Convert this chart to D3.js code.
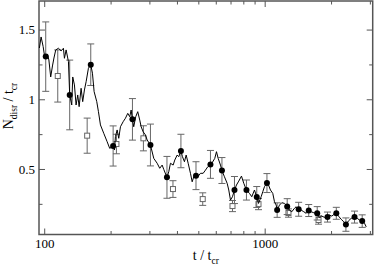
<!DOCTYPE html>
<html>
<head>
<meta charset="utf-8">
<script src="https://cdn.jsdelivr.net/npm/d3@7"></script>
<style>
  body { margin: 0; background: #fff; }
  svg { display: block; font-family: "Liberation Serif", "DejaVu Serif", serif; }
  svg text { font-family: "Liberation Serif", "DejaVu Serif", serif; }
</style>
</head>
<body>
<div id="chart"></div>
<script>
// simulation curve (t / t_cr, N_disr / t_cr)
var lineT = [95.1, 96.8, 98.9, 100.2, 101.6, 103.4, 105.0, 107.0, 109.0, 110.7, 112.8, 116.0, 119.3, 122.2, 123.5, 125.7, 128.8, 130.5, 133.3, 134.7,
  137.1, 139.5, 141.9, 144.0, 147.0, 149.5, 152.2, 154.9, 158.7, 162.6, 165.5, 168.4, 173.1, 176.2, 179.9, 186.2, 192.9, 198.2, 205.4, 208.3,
  210.4, 214.2, 217.8, 221.7, 228.0, 233.6, 239.3, 244.3, 247.9, 251.3, 254.7, 260.1, 265.6, 271.2, 275.2, 281.0, 287.9, 293.0, 303.3, 314.0,
  325.3, 334.2, 342.7, 348.5, 360.4, 367.2, 373.8, 384.5, 391.0, 400.9, 407.7, 417, 423.7, 432.6, 440.4, 449.7, 460.6, 469.0, 476.8, 488,
  497.2, 511.4, 526.0, 538.8, 551.9, 567.6, 577.9, 593.8, 604.4, 615.2, 630.2, 640, 657.0, 675.8, 687.3, 699.6, 714.4, 729.5, 744.9, 763.0,
  784.8, 804.0, 826.6, 853.1, 874.0, 898.9, 920.6, 937.5, 964.0, 980.4, 997.9, 1024, 1040.4, 1062.4, 1088.2, 1107.8, 1127.6, 1139, 1167.3, 1195.6,
  1229.7, 1265, 1295.6, 1327.1, 1365.1, 1389.6, 1426, 1464.1, 1504.4, 1542.6, 1584, 1625.5, 1670.3, 1731, 1773, 1816.3, 1868, 1927, 1967.9, 2016,
  2073.7, 2113, 2161.8, 2223.9, 2285.1, 2336, 2399.9, 2468.8, 2556, 2628.4, 2692, 2769, 2837.3, 2888];
var lineN = [1.368, 1.447, 1.378, 1.318, 1.306, 1.325, 1.282, 1.160, 1.239, 1.296, 1.354, 1.366, 1.347, 1.366, 1.294, 1.354, 1.270, 1.031, 0.959, 1.160,
  1.103, 0.959, 1.031, 0.947, 1.079, 0.983, 1.067, 1.126, 1.223, 1.248, 1.187, 1.055, 0.983, 0.911, 0.816, 0.756, 0.696, 0.648, 0.665, 0.636,
  0.732, 0.780, 0.720, 0.803, 0.839, 0.864, 0.899, 0.875, 0.923, 0.856, 0.803, 0.875, 0.911, 0.851, 0.803, 0.767, 0.744, 0.708, 0.672, 0.576,
  0.541, 0.505, 0.528, 0.497, 0.440, 0.480, 0.541, 0.528, 0.564, 0.600, 0.588, 0.629, 0.588, 0.552, 0.600, 0.541, 0.469, 0.408, 0.444, 0.452,
  0.444, 0.469, 0.469, 0.492, 0.516, 0.533, 0.545, 0.576, 0.624, 0.576, 0.528, 0.489, 0.444, 0.397, 0.349, 0.277, 0.301, 0.349, 0.385, 0.413,
  0.449, 0.397, 0.349, 0.325, 0.301, 0.349, 0.299, 0.253, 0.301, 0.337, 0.373, 0.399, 0.385, 0.349, 0.325, 0.265, 0.241, 0.205, 0.241, 0.258,
  0.253, 0.234, 0.205, 0.193, 0.218, 0.229, 0.211, 0.205, 0.193, 0.182, 0.202, 0.193, 0.186, 0.182, 0.153, 0.162, 0.153, 0.155, 0.169, 0.162,
  0.177, 0.182, 0.162, 0.139, 0.121, 0.101, 0.128, 0.146, 0.155, 0.146, 0.134, 0.128, 0.110, 0.085];

// filled circles with error bars
var circT = [101.6, 130.5, 162.6, 205.4, 251.3, 303.3, 360.4, 417, 488, 567.6, 640, 729.5, 826.6, 920.6, 1024, 1139, 1265, 1426, 1584, 1731,
  1927, 2113, 2336, 2556, 2769];
var circN = [1.306, 1.031, 1.248, 0.665, 0.856, 0.672, 0.440, 0.629, 0.452, 0.533, 0.489, 0.349, 0.349, 0.299, 0.399, 0.205, 0.230, 0.211, 0.202, 0.182,
  0.155, 0.182, 0.101, 0.155, 0.126];
var circErr = [0.249, 0.25, 0.149, 0.144, 0.149, 0.15, 0.15, 0.12, 0.10, 0.10, 0.093, 0.097, 0.072, 0.075, 0.068, 0.052, 0.057, 0.05, 0.043, 0.048,
  0.036, 0.043, 0.048, 0.043, 0.045];

// open squares with error bars
var sqT = [115.2, 156.6, 212.6, 281.8, 383.7, 523.6, 714.5, 937.5, 1282, 1755];
var sqN = [1.167, 0.739, 0.679, 0.72, 0.356, 0.284, 0.234, 0.248, 0.184, 0.134];
var sqErr = [0.187, 0.126, 0.07, 0.09, 0.06, 0.045, 0.04, 0.04, 0.03, 0.03];

var xMajor = [100, 1000];
var xMinor = [200, 300, 400, 500, 600, 700, 800, 900, 2000, 3000];
var yMajor = [0.5, 1, 1.5];
var yMinor = [0.25, 0.75, 1.25];

var width = 374, height = 267;
var plotL = 39, plotR = 372.7, plotT = 1, plotB = 234.5;
var serif = "'Liberation Serif', 'DejaVu Serif', serif";

var svg = d3.select("#chart")
    .append("svg")
    .attr("width", width)
    .attr("height", height);

var x = d3.scaleLog()
    .domain([94.7, 3090])
    .range([plotL, plotR]);

var y = d3.scaleLinear()
    .domain([0.03, 1.705])
    .range([plotB, plotT]);

var axisColor = "#555";

function styleAxis(g) {
    g.select(".domain").remove();
    g.selectAll(".tick line").attr("stroke", axisColor).attr("stroke-width", 1);
    g.selectAll(".tick text").attr("fill", "#000").attr("font-size", 13)
        .attr("font-family", serif);
}

// bottom
svg.append("g")
    .attr("transform", "translate(0," + plotB + ")")
    .call(d3.axisBottom(x).tickValues(xMajor).tickSize(-6).tickPadding(4).tickFormat(d3.format("d")))
    .call(styleAxis);
svg.append("g")
    .attr("transform", "translate(0," + plotB + ")")
    .call(d3.axisBottom(x).tickValues(xMinor).tickSize(-3.5).tickFormat(""))
    .call(styleAxis);
// top
svg.append("g")
    .attr("transform", "translate(0," + plotT + ")")
    .call(d3.axisTop(x).tickValues(xMajor).tickSize(-6).tickFormat(""))
    .call(styleAxis);
svg.append("g")
    .attr("transform", "translate(0," + plotT + ")")
    .call(d3.axisTop(x).tickValues(xMinor).tickSize(-3.5).tickFormat(""))
    .call(styleAxis);
// left
svg.append("g")
    .attr("transform", "translate(" + plotL + ",0)")
    .call(d3.axisLeft(y).tickValues(yMajor).tickSize(-6).tickPadding(4).tickFormat(function(d){ return d; }))
    .call(styleAxis);
svg.append("g")
    .attr("transform", "translate(" + plotL + ",0)")
    .call(d3.axisLeft(y).tickValues(yMinor).tickSize(-3.5).tickFormat(""))
    .call(styleAxis);
// right
svg.append("g")
    .attr("transform", "translate(" + plotR + ",0)")
    .call(d3.axisRight(y).tickValues(yMajor).tickSize(-6).tickFormat(""))
    .call(styleAxis);
svg.append("g")
    .attr("transform", "translate(" + plotR + ",0)")
    .call(d3.axisRight(y).tickValues(yMinor).tickSize(-3.5).tickFormat(""))
    .call(styleAxis);

svg.append("rect")
    .attr("x", plotL)
    .attr("y", plotT)
    .attr("width", plotR - plotL)
    .attr("height", plotB - plotT)
    .attr("fill", "none")
    .attr("stroke", axisColor)
    .attr("stroke-width", 1.5);

var lineData = lineT.map(function(t, i) { return { t: t, n: lineN[i] }; });
var circData = circT.map(function(t, i) { return { t: t, n: circN[i], e: circErr[i] }; });
var sqData = sqT.map(function(t, i) { return { t: t, n: sqN[i], e: sqErr[i] }; });

var errColor = "#666";
var cap = 3.5;

function errorBars(cls, data) {
    var g = svg.append("g").attr("class", cls);
    g.selectAll(".v").data(data).enter().append("line")
        .attr("x1", function(d) { return x(d.t); })
        .attr("x2", function(d) { return x(d.t); })
        .attr("y1", function(d) { return y(d.n - d.e); })
        .attr("y2", function(d) { return y(d.n + d.e); })
        .attr("stroke", errColor).attr("stroke-width", 1);
    g.selectAll(".top").data(data).enter().append("line")
        .attr("x1", function(d) { return x(d.t) - cap; })
        .attr("x2", function(d) { return x(d.t) + cap; })
        .attr("y1", function(d) { return y(d.n + d.e); })
        .attr("y2", function(d) { return y(d.n + d.e); })
        .attr("stroke", errColor).attr("stroke-width", 1);
    g.selectAll(".bot").data(data).enter().append("line")
        .attr("x1", function(d) { return x(d.t) - cap; })
        .attr("x2", function(d) { return x(d.t) + cap; })
        .attr("y1", function(d) { return y(d.n - d.e); })
        .attr("y2", function(d) { return y(d.n - d.e); })
        .attr("stroke", errColor).attr("stroke-width", 1);
}

errorBars("sqerr", sqData);

svg.append("g").selectAll("rect")
    .data(sqData)
    .enter().append("rect")
    .attr("x", function(d) { return x(d.t) - 2.5; })
    .attr("y", function(d) { return y(d.n) - 2.5; })
    .attr("width", 5)
    .attr("height", 5)
    .attr("fill", "#fff")
    .attr("stroke", errColor)
    .attr("stroke-width", 1);

errorBars("circerr", circData);

svg.append("path")
    .datum(lineData)
    .attr("fill", "none")
    .attr("stroke", "#000")
    .attr("stroke-width", 1)
    .attr("d", d3.line()
        .x(function(d) { return x(d.t); })
        .y(function(d) { return y(d.n); }));

svg.append("g").selectAll("circle")
    .data(circData)
    .enter().append("circle")
    .attr("cx", function(d) { return x(d.t); })
    .attr("cy", function(d) { return y(d.n); })
    .attr("r", 3)
    .attr("fill", "#000");

// axis titles
var xt = svg.append("text")
    .attr("x", (plotL + plotR) / 2)
    .attr("y", 260)
    .attr("text-anchor", "middle")
    .attr("font-family", serif)
    .attr("font-size", 14);
xt.append("tspan").text("t / t");
xt.append("tspan").attr("font-size", 9.5).attr("dy", 4).text("cr");

var yt = svg.append("text")
    .attr("transform", "translate(12.5,106) rotate(-90)")
    .attr("text-anchor", "middle")
    .attr("font-family", serif)
    .attr("font-size", 14);
yt.append("tspan").text("N");
yt.append("tspan").attr("font-size", 9.5).attr("dy", 4).text("disr");
yt.append("tspan").attr("dy", -4).text(" / t");
yt.append("tspan").attr("font-size", 9.5).attr("dy", 4).text("cr");
</script>
</body>
</html>
